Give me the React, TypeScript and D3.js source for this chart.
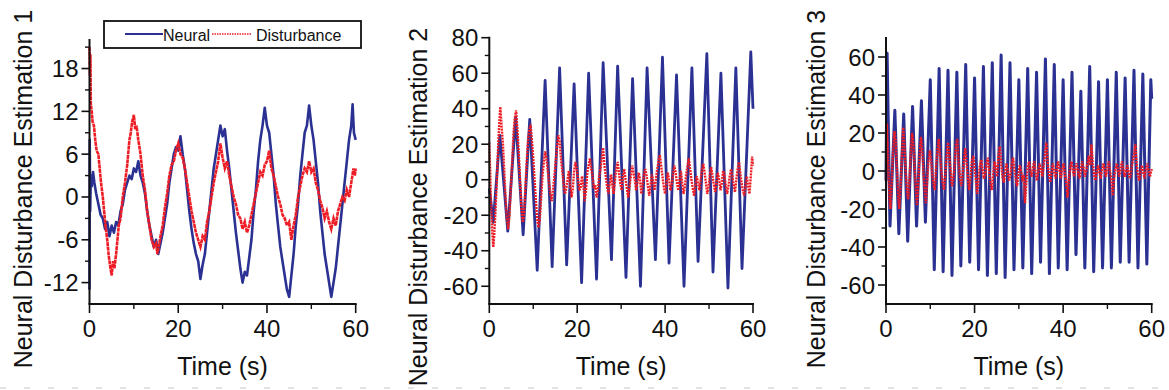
import * as d3 from "d3";

// ── Data ──────────────────────────────────────────────────────
type Pt = [number, number];

const X_TICKS = [0, 20, 40, 60];
const X_MINOR = [10, 30, 50];

const Y1_MAJOR = [-12, -6, 0, 6, 12, 18];
const Y1_MINOR = [-9, -3, 3, 9, 15, 21];
const Y2_MAJOR = [-60, -40, -20, 0, 20, 40, 60, 80];
const Y2_MINOR = [-50, -30, -10, 10, 30, 50, 70];
const Y3_MAJOR = [-60, -40, -20, 0, 20, 40, 60];
const Y3_MINOR = [-50, -30, -10, 10, 30, 50];

const P1_NEURAL: Pt[] = [
  [0, -13], [0.05, 8], [0.15, -2], [0.3, 3], [0.5, 1.5], [0.8, 3.5], [1.1, 2], [1.5, 0.5], [2, -1], [2.5, -2.5],
  [3, -3], [3.5, -4.5], [4, -3.5], [4.5, -5.5], [5, -4], [5.5, -5], [6, -3.5], [6.5, -4], [7, -2], [7.5, -1],
  [8, 1], [8.5, 2], [9, 3], [9.5, 2.5], [10, 4], [10.5, 3.5], [11, 5], [11.5, 3], [12, 2], [12.5, 0.5],
  [13, -2], [13.5, -4], [14, -5.5], [14.5, -7], [15, -6], [15.5, -8], [16, -6.5], [16.5, -5], [17, -3], [17.5, -1],
  [18, 2], [18.5, 4], [19, 6], [19.5, 7], [20, 6.5], [20.5, 8.5], [21, 6], [21.5, 4], [22, 1], [22.5, -2],
  [23, -4.5], [23.5, -6.5], [24, -8], [24.5, -9], [25, -11.5], [25.5, -9.5], [26, -8], [26.5, -5], [27, -2], [27.5, 1],
  [28, 4], [28.5, 6], [29, 8], [29.5, 10], [30, 8.5], [30.5, 9.5], [31, 6.5], [31.5, 4], [32, 1], [32.5, -2],
  [33, -5], [33.5, -7.5], [34, -10], [34.5, -12], [35, -10.5], [35.5, -11], [36, -8.5], [36.5, -6], [37, -2], [37.5, 1],
  [38, 5], [38.5, 8], [39, 10], [39.5, 12.5], [40, 10], [40.5, 9], [41, 6], [41.5, 3], [42, -1], [42.5, -4],
  [43, -7], [43.5, -9], [44, -11], [44.5, -13], [45, -14], [45.5, -11], [46, -8], [46.5, -4], [47, -1], [47.5, 3],
  [48, 6], [48.5, 9], [49, 10], [49.5, 12.8], [50, 10], [50.5, 8], [51, 5], [51.5, 2], [52, -2], [52.5, -5],
  [53, -8], [53.5, -10], [54, -12], [54.5, -14], [55, -12], [55.5, -10], [56, -7], [56.5, -4], [57, -1], [57.5, 2],
  [58, 5], [58.5, 8], [59, 10], [59.3, 13], [59.6, 9], [60, 8],
];

const P1_DIST: Pt[] = [
  [0, 21], [0.1, 17], [0.2, 20], [0.3, 13], [0.5, 12], [0.7, 10.5], [1, 10], [1.3, 8], [1.6, 6.5], [2, 6],
  [2.3, 4], [2.6, 2], [3, 0], [3.3, -2], [3.6, -4], [4, -6], [4.3, -8], [4.6, -9.5], [5, -11], [5.3, -9],
  [5.6, -10], [6, -8], [6.3, -6], [6.6, -4], [7, -3], [7.5, 0], [8, 2], [8.5, 4.5], [9, 8], [9.3, 9],
  [9.6, 10.5], [10, 11.5], [10.3, 9.5], [10.6, 10], [11, 8], [11.5, 6], [12, 3], [12.5, 1], [13, -2], [13.5, -4],
  [14, -6], [14.5, -7], [15, -6.5], [15.3, -8], [15.6, -7], [16, -5.5], [16.5, -4], [17, -1.5], [17.5, 0.5], [18, 3],
  [18.5, 4.5], [19, 5], [19.5, 6.5], [20, 7.5], [20.5, 6], [21, 5.5], [21.5, 4], [22, 2], [22.5, 0], [23, -2],
  [23.5, -3.5], [24, -5], [24.5, -6], [25, -7], [25.5, -5.5], [26, -6], [26.5, -3.5], [27, -2], [27.5, 0], [28, 2],
  [28.5, 3.5], [29, 5], [29.5, 7.5], [30, 5.5], [30.5, 4], [31, 5], [31.5, 3], [32, 1.5], [32.5, 0], [33, -1],
  [33.5, -2.5], [34, -3], [34.5, -4.5], [35, -3.5], [35.5, -5], [36, -4], [36.5, -2.5], [37, -1], [37.5, 0.5], [38, 2],
  [38.5, 3.5], [39, 3], [39.5, 4.5], [40, 5], [40.5, 6.5], [41, 4], [41.5, 3], [42, 1.5], [42.5, 0], [43, -1],
  [43.5, -2.5], [44, -3], [44.5, -4], [45, -3.5], [45.5, -6], [46, -4], [46.5, -2.5], [47, 0], [47.5, 1.5], [48, 3],
  [48.5, 4], [49, 3.5], [49.5, 5], [50, 3.5], [50.5, 4], [51, 2], [51.5, 1], [52, -0.5], [52.5, -1.5], [53, -3],
  [53.5, -2], [54, -3.5], [54.5, -4.5], [55, -3], [55.5, -4], [56, -2], [56.5, -1], [57, 0], [57.5, -0.5], [58, 1],
  [58.5, 0], [59, 2], [59.5, 4], [59.8, 3], [60, 4],
];

const P2_NEURAL: Pt[] = [
  [0, -5], [0.9, -24], [2.4, 25], [4.2, -29], [6, 35], [7.7, -31], [9.2, 34], [10.9, -51], [12.7, 56], [14.3, -49],
  [16, 63], [17.6, -48], [19.3, 54], [21, -58], [22.6, 60], [24.4, -56], [25.9, 66], [27.8, -45], [29.2, 64], [31.1, -55],
  [32.6, 57], [34.4, -60], [35.9, 63], [37.8, -45], [39.4, 69], [40.9, -47], [42.6, 59], [44.3, -60], [46.1, 63], [47.5, -46],
  [49.5, 71], [50.9, -52], [52.7, 60], [54.3, -61], [56.1, 63], [57.5, -50], [59.5, 72], [60, 40],
];

const P2_DIST: Pt[] = [
  [0, 21], [0.2, 5], [0.4, -15], [0.7, -30], [0.9, -38], [1.1, -32], [1.4, -18], [1.7, -2], [2, 18], [2.3, 33],
  [2.5, 41], [2.8, 30], [3.1, 20], [3.4, 5], [3.7, -10], [4, -22], [4.3, -28], [4.6, -20], [4.9, -5], [5.2, 10],
  [5.5, 26], [5.8, 35], [6.1, 39], [6.4, 28], [6.7, 15], [7, 0], [7.3, -15], [7.6, -24], [7.9, -20], [8.2, -5],
  [8.5, 10], [8.8, 22], [9.1, 28], [9.4, 31], [9.7, 22], [10, 12], [10.3, 0], [10.6, -12], [10.9, -22], [11.2, -27],
  [11.5, -22], [11.8, -10], [12.1, 2], [12.4, 10], [12.7, 16], [13, 12], [13.3, 5], [13.6, -2], [13.9, -8], [14.2, -12],
  [14.5, -6], [14.8, 2], [15.1, 10], [15.4, 18], [15.7, 25], [16, 22], [16.3, 12], [16.6, 5], [16.9, -2], [17.2, -8],
  [17.5, -5], [17.8, 0], [18.1, 5], [18.4, -3], [18.7, -10], [19, -5], [19.3, 5], [19.6, 10], [19.9, 6], [20.2, 0],
  [20.5, -6], [20.8, -4], [21.1, 2], [21.4, -3], [21.7, -12], [22, -6], [22.3, 4], [22.6, 8], [22.9, 12], [23.2, 6],
  [23.5, 2], [23.8, -5], [24.1, -3], [24.4, -10], [24.7, -6], [25, 2], [25.3, 6], [25.6, 12], [25.9, 18], [26.2, 8],
  [26.5, 2], [26.8, -4], [27.1, -8], [27.4, -2], [27.7, 3], [28, -3], [28.3, -8], [28.6, 0], [28.9, 6], [29.2, 10],
  [29.5, 4], [29.8, -2], [30.1, -6], [30.4, 2], [30.7, 6], [31, 0], [31.3, -5], [31.6, -10], [31.9, -4], [32.2, 2],
  [32.5, 8], [32.8, 4], [33.1, 0], [33.4, -6], [33.7, -2], [34, 4], [34.3, 0], [34.6, -8], [34.9, -3], [35.2, 3],
  [35.5, 6], [35.8, 2], [36.1, -4], [36.4, -9], [36.7, -3], [37, 3], [37.3, -2], [37.6, -6], [37.9, 0], [38.2, 6],
  [38.5, 10], [38.8, 14], [39.1, 8], [39.4, 2], [39.7, -4], [40, -8], [40.3, -2], [40.6, 4], [40.9, 0], [41.2, -6],
  [41.5, -3], [41.8, 3], [42.1, 8], [42.4, 4], [42.7, -2], [43, -6], [43.3, 0], [43.6, 5], [43.9, -2], [44.2, -8],
  [44.5, -4], [44.8, 3], [45.1, 8], [45.4, 12], [45.7, 6], [46, 0], [46.3, -5], [46.6, -9], [46.9, -3], [47.2, 2],
  [47.5, -2], [47.8, -6], [48.1, 0], [48.4, 6], [48.7, 9], [49, 4], [49.3, -2], [49.6, -8], [49.9, -4], [50.2, 3],
  [50.5, 7], [50.8, 2], [51.1, -3], [51.4, -7], [51.7, -2], [52, 4], [52.3, 0], [52.6, -6], [52.9, -2], [53.2, 5],
  [53.5, 3], [53.8, -3], [54.1, -8], [54.4, -4], [54.7, 2], [55, 6], [55.3, 2], [55.6, -3], [55.9, -7], [56.2, 0],
  [56.5, 6], [56.8, 10], [57.1, 4], [57.4, -2], [57.7, -6], [58, -9], [58.3, -3], [58.6, 2], [58.9, -4], [59.2, -8],
  [59.5, 2], [59.8, 13], [60, 8],
];

const P3_NEURAL: Pt[] = [
  [0, -5], [0.25, 62], [0.9, -29], [2, 32], [2.9, -33], [4, 30], [4.9, -37], [6, 34], [6.9, -29], [8, 37],
  [8.9, -27], [10, 48], [10.9, -52], [12, 54], [12.9, -53], [14, 53], [14.9, -55], [16, 52], [16.9, -50], [18, 56],
  [18.9, -48], [20, 49], [20.9, -52], [22, 55], [22.9, -55], [24, 57], [24.9, -54], [26, 61], [26.9, -56], [28, 57],
  [28.9, -52], [30, 48], [30.9, -51], [32, 54], [32.9, -54], [34, 52], [34.9, -48], [36, 59], [36.9, -54], [38, 56],
  [38.9, -51], [40, 48], [40.9, -52], [42, 52], [42.9, -44], [44, 42], [44.9, -51], [46, 55], [46.9, -53], [48, 47],
  [48.9, -51], [50, 48], [50.9, -51], [52, 52], [52.9, -48], [54, 49], [54.9, -48], [56, 53], [56.9, -51], [58, 51],
  [58.9, -49], [59.8, 48], [60, 38],
];

const P3_DIST: Pt[] = [
  [0, -5], [0.2, 25], [0.5, 5], [0.8, -15], [1, -20], [1.3, -5], [1.6, 10], [1.9, 21], [2.2, 15], [2.5, 0],
  [2.8, -15], [3, -20], [3.3, -8], [3.6, 8], [3.9, 23], [4.2, 12], [4.5, -2], [4.8, -12], [5, -15], [5.3, -5],
  [5.6, 10], [5.9, 20], [6.2, 14], [6.5, 0], [6.8, -12], [7, -18], [7.3, -6], [7.6, 8], [7.9, 18], [8.2, 10],
  [8.5, -2], [8.8, -12], [9, -17], [9.3, -5], [9.6, 5], [9.9, 11], [10.2, 5], [10.5, -3], [10.8, -8], [11, -10],
  [11.3, 2], [11.6, 10], [11.9, 17], [12.2, 8], [12.5, 0], [12.8, -6], [13.1, -10], [13.4, -2], [13.7, 8], [14, 15],
  [14.3, 8], [14.6, 0], [14.9, -8], [15.2, -4], [15.5, 3], [15.8, 14], [16.1, 17], [16.4, 5], [16.7, -3], [17, -8],
  [17.3, -2], [17.6, 5], [17.9, 12], [18.2, 4], [18.5, -4], [18.8, -10], [19.1, -3], [19.4, 5], [19.7, 8], [20, 2],
  [20.3, -5], [20.6, -12], [20.9, -4], [21.2, 3], [21.5, 6], [21.8, 1], [22.1, -4], [22.4, -2], [22.7, 4], [23, 7],
  [23.3, 0], [23.6, -6], [23.9, -10], [24.2, -2], [24.5, 5], [24.8, 2], [25.1, -3], [25.4, 8], [25.7, 13], [26, 4],
  [26.3, -3], [26.6, -6], [26.9, -1], [27.2, 4], [27.5, 0], [27.8, -5], [28.1, -2], [28.4, 4], [28.7, 7], [29, 1],
  [29.3, -4], [29.6, -8], [29.9, -2], [30.2, 3], [30.5, 0], [30.8, -4], [31.1, -2], [31.4, -17], [31.7, -6], [32, 2],
  [32.3, 5], [32.6, 0], [32.9, -3], [33.2, 2], [33.5, 5], [33.8, -1], [34.1, -5], [34.4, 0], [34.7, 4], [35, 1],
  [35.3, -3], [35.6, 3], [35.9, 8], [36.2, 15], [36.5, 5], [36.8, -2], [37.1, -6], [37.4, 0], [37.7, 4], [38, -1],
  [38.3, -4], [38.6, 2], [38.9, 5], [39.2, 0], [39.5, -4], [39.8, 1], [40.1, 4], [40.4, -2], [40.7, -6], [41, -14],
  [41.3, -4], [41.6, 2], [41.9, 5], [42.2, 0], [42.5, -3], [42.8, 2], [43.1, 4], [43.4, -1], [43.7, -4], [44, 1],
  [44.3, 5], [44.6, 2], [44.9, -3], [45.2, 0], [45.5, 4], [45.8, 8], [46.1, 3], [46.4, 14], [46.7, 4], [47, -2],
  [47.3, -5], [47.6, 0], [47.9, 3], [48.2, -1], [48.5, -4], [48.8, 1], [49.1, 4], [49.4, 0], [49.7, -3], [50, 2],
  [50.3, 5], [50.6, 0], [50.9, -5], [51.2, -13], [51.5, -4], [51.8, 1], [52.1, 4], [52.4, 0], [52.7, -3], [53, 2],
  [53.3, 5], [53.6, 1], [53.9, -3], [54.2, 0], [54.5, 3], [54.8, -1], [55.1, -4], [55.4, 1], [55.7, 5], [56, 9],
  [56.3, 14], [56.6, 4], [56.9, -2], [57.2, -5], [57.5, 0], [57.8, 3], [58.1, -1], [58.4, -4], [58.7, 1], [59, 4],
  [59.3, 0], [59.6, -3], [60, 1],
];

// ── Layout / style ────────────────────────────────────────────
const W = 1169;
const H = 390;
const BLUE = "#2b3192";
const RED = "#ee1d25";
const FONT = "'Liberation Sans', Arial, sans-serif";
const AXIS_Y = 304; // x-axis line

interface Panel {
  title: string;
  neural: Pt[];
  dist: Pt[];
  yDomain: [number, number];
  yMajor: number[];
  yMinor: number[];
  left: number;
  right: number;
  top: number;
  labelX: number;
  labelY: number;
  blueW: number;
  redW: number;
  redDash: string;
}

const PANELS: Panel[] = [
  {
    title: "Neural Disturbance Estimation 1", neural: P1_NEURAL, dist: P1_DIST,
    yDomain: [-15, 22], yMajor: Y1_MAJOR, yMinor: Y1_MINOR,
    left: 89.5, right: 355.7, top: 40, labelX: 32, labelY: 189,
    blueW: 2.6, redW: 2.6, redDash: "4 0.6",
  },
  {
    title: "Neural Disturbance Estimation 2", neural: P2_NEURAL, dist: P2_DIST,
    yDomain: [-70, 80], yMajor: Y2_MAJOR, yMinor: Y2_MINOR,
    left: 489.3, right: 753, top: 37.7, labelX: 427, labelY: 207,
    blueW: 2.8, redW: 2.4, redDash: "2 1",
  },
  {
    title: "Neural Disturbance Estimation 3", neural: P3_NEURAL, dist: P3_DIST,
    yDomain: [-70, 70], yMajor: Y3_MAJOR, yMinor: Y3_MINOR,
    left: 886, right: 1151.7, top: 38, labelX: 825, labelY: 189,
    blueW: 3, redW: 2.4, redDash: "2 1",
  },
];

function PanelChart({ p }: { p: Panel }) {
  const x = d3.scaleLinear().domain([0, 60]).range([p.left, p.right]);
  const y = d3.scaleLinear().domain(p.yDomain).range([AXIS_Y, p.top]);
  const line = d3.line<Pt>().x((d) => x(d[0])).y((d) => y(d[1]));
  const xMid = (p.left + p.right) / 2;

  return (
    <g>
      {/* series */}
      <path d={line(p.neural) ?? ""} fill="none" stroke={BLUE} strokeWidth={p.blueW} strokeLinejoin="round" />
      <path d={line(p.dist) ?? ""} fill="none" stroke={RED} strokeWidth={p.redW} strokeDasharray={p.redDash} />

      {/* axes */}
      <line x1={p.left} x2={p.left} y1={p.top - 1} y2={AXIS_Y} stroke="#111" strokeWidth={2} />
      <line x1={p.left - 1} x2={p.right + 1} y1={AXIS_Y} y2={AXIS_Y} stroke="#111" strokeWidth={2} />

      {p.yMajor.map((t) => (
        <g key={`ym-${t}`}>
          <line x1={p.left - 8} x2={p.left} y1={y(t)} y2={y(t)} stroke="#111" strokeWidth={1.6} />
          <text x={p.left - 11} y={y(t) + 8.5} textAnchor="end" fontSize={24} fill="#111">{t}</text>
        </g>
      ))}
      {p.yMinor.map((t) => (
        <line key={`yn-${t}`} x1={p.left - 4.5} x2={p.left} y1={y(t)} y2={y(t)} stroke="#111" strokeWidth={1.4} />
      ))}

      {X_TICKS.map((t) => (
        <g key={`xm-${t}`}>
          <line x1={x(t)} x2={x(t)} y1={AXIS_Y} y2={AXIS_Y + 9} stroke="#111" strokeWidth={1.6} />
          <text x={x(t)} y={337} textAnchor="middle" fontSize={24} fill="#111">{t}</text>
        </g>
      ))}
      {X_MINOR.map((t) => (
        <line key={`xn-${t}`} x1={x(t)} x2={x(t)} y1={AXIS_Y} y2={AXIS_Y + 5} stroke="#111" strokeWidth={1.4} />
      ))}

      {/* axis titles */}
      <text x={xMid} y={375} textAnchor="middle" fontSize={25} fill="#111">Time (s)</text>
      <text
        x={p.labelX} y={p.labelY} textAnchor="middle" fontSize={25} fill="#111"
        transform={`rotate(-90, ${p.labelX}, ${p.labelY})`}
      >
        {p.title}
      </text>
    </g>
  );
}

export default function App() {
  return (
    <div style={{ position: "absolute", left: 0, top: 0, width: W, height: H, background: "#fff" }}>
      <svg width={W} height={H} style={{ display: "block", fontFamily: FONT }}>
        <rect width={W} height={H} fill="#fff" />

        {PANELS.map((p) => (
          <PanelChart key={p.title} p={p} />
        ))}

        {/* legend (panel 1) */}
        <rect x={104} y={21} width={257} height={27} fill="#fff" stroke="#111" strokeWidth={1.8} />
        <line x1={125} x2={163} y1={34} y2={34} stroke={BLUE} strokeWidth={2} />
        <text x={163} y={41} fontSize={16} fill="#111">Neural</text>
        <line x1={212} x2={251} y1={34} y2={34} stroke={RED} strokeWidth={1.6} strokeDasharray="1.5 1" />
        <text x={256} y={41} fontSize={16} fill="#111">Disturbance</text>

        {/* faint page-edge dashes */}
        <line x1={0} x2={W} y1={388} y2={388} stroke="#e4e4e4" strokeWidth={2} strokeDasharray="6 18" />
      </svg>
    </div>
  );
}
